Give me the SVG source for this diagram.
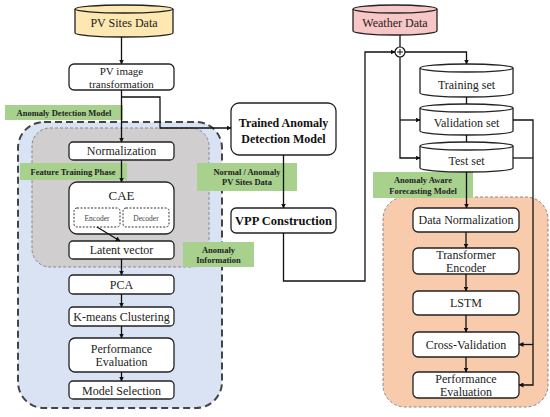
<svg xmlns="http://www.w3.org/2000/svg" width="550" height="417" viewBox="0 0 550 417" font-family="Liberation Serif, Times New Roman, serif">
<style>
.box{fill:#fff;stroke:#222;stroke-width:1.3}
.sub{fill:#fff;stroke:#333;stroke-width:1;stroke-dasharray:2,1.5}
.t{font-size:12px;fill:#222;text-anchor:middle}
.tb{font-size:12px;font-weight:bold;fill:#111;text-anchor:middle}
.ts{font-size:7.5px;fill:#444;text-anchor:middle}
.lbl{fill:#a9d18e}
.lt{font-size:8.5px;font-weight:bold;fill:#222;text-anchor:middle}
.cn{fill:none;stroke:#111;stroke-width:1.3}
</style>
<defs>
<marker id="ah" viewBox="0 0 10 10" refX="9" refY="5" markerWidth="5" markerHeight="5" orient="auto-start-reverse" markerUnits="userSpaceOnUse">
<path d="M0,0 L10,5 L0,10 Z" fill="#111"/>
</marker>
</defs>

<g id="regions">
<rect id="anomaly-region" x="18" y="122" width="204" height="286" rx="26" fill="#dae3f3" stroke="#444" stroke-width="2" stroke-dasharray="7,4"/>
<rect id="feature-region" x="32" y="128" width="177" height="139" rx="18" fill="#d0cece" stroke="#888" stroke-width="1" stroke-dasharray="3,2"/>
<rect id="forecast-region" x="383" y="197" width="165" height="210" rx="22" fill="#f8cbad" stroke="#888" stroke-width="1" stroke-dasharray="3,2"/>
</g>

<g id="labels">
<rect class="lbl" x="5" y="105" width="118" height="15"/>
<text class="lt" x="64" y="115.5">Anomaly Detection Model</text>
<rect class="lbl" x="20" y="163" width="107" height="17"/>
<text class="lt" x="73" y="174.5">Feature Training Phase</text>
<rect class="lbl" x="183" y="242" width="71" height="25"/>
<text class="lt" x="218.5" y="252.5">Anomaly</text>
<text class="lt" x="218.5" y="263">Information</text>
<rect class="lbl" x="197" y="163" width="100" height="28"/>
<text class="lt" x="247" y="174.5">Normal / Anomaly</text>
<text class="lt" x="247" y="185">PV Sites Data</text>
<rect class="lbl" x="373" y="172" width="100" height="26"/>
<text class="lt" x="423" y="182.5">Anomaly Aware</text>
<text class="lt" x="423" y="193.5">Forecasting Model</text>
</g>

<g id="pv-sites-data">
<path d="M75,9 V33 A49,4 0 0 0 173,33 V9" fill="#fce8b0" stroke="#222" stroke-width="1.3"/>
<ellipse cx="124" cy="9" rx="49" ry="4" fill="#fce8b0" stroke="#222" stroke-width="1.3"/>
<text class="t" x="124" y="27">PV Sites Data</text>
</g>
<g id="pv-image">
<rect class="box" x="69" y="64" width="105" height="26" rx="5"/>
<text class="t" x="121.5" y="75" style="font-size:11px">PV image</text>
<text class="t" x="121.5" y="87.5" style="font-size:11px">transformation</text>
</g>
<g id="normalization">
<rect class="box" x="69" y="142" width="105" height="18" rx="4"/>
<text class="t" x="121.5" y="155">Normalization</text>
</g>
<g id="cae">
<rect class="box" x="69" y="182" width="105" height="52" rx="8"/>
<text class="t" x="121.5" y="200" style="font-size:13px">CAE</text>
<rect class="sub" x="74" y="208" width="46" height="19" rx="3"/>
<text class="ts" x="97" y="220.5">Encoder</text>
<rect class="sub" x="123" y="208" width="46" height="19" rx="3"/>
<text class="ts" x="146" y="220.5">Decoder</text>
</g>
<g id="latent">
<rect class="box" x="69" y="241" width="105" height="18" rx="4"/>
<text class="t" x="121.5" y="254">Latent vector</text>
</g>
<g id="pca">
<rect class="box" x="69" y="275" width="105" height="19" rx="4"/>
<text class="t" x="121.5" y="289">PCA</text>
</g>
<g id="kmeans">
<rect class="box" x="69" y="307" width="105" height="19" rx="4"/>
<text class="t" x="121.5" y="321">K-means Clustering</text>
</g>
<g id="perf-left">
<rect class="box" x="69" y="338" width="105" height="34" rx="6"/>
<text class="t" x="121.5" y="353">Performance</text>
<text class="t" x="121.5" y="366">Evaluation</text>
</g>
<g id="model-selection">
<rect class="box" x="69" y="381" width="105" height="18" rx="4"/>
<text class="t" x="121.5" y="394.5">Model Selection</text>
</g>

<g id="trained-model">
<rect class="box" x="231" y="103" width="105" height="52" rx="8"/>
<text class="tb" x="283.5" y="127">Trained Anomaly</text>
<text class="tb" x="283.5" y="143">Detection Model</text>
</g>
<g id="vpp">
<rect class="box" x="231" y="208" width="105" height="25" rx="5"/>
<text class="tb" x="283.5" y="225" style="font-size:12.5px">VPP Construction</text>
</g>

<g id="weather-data">
<path d="M353,9 V31 A42,4 0 0 0 437,31 V9" fill="#f7c6c6" stroke="#222" stroke-width="1.3"/>
<ellipse cx="395" cy="9" rx="42" ry="4" fill="#f7c6c6" stroke="#222" stroke-width="1.3"/>
<text class="t" x="395" y="27">Weather Data</text>
</g>
<g id="combine">
<circle cx="400" cy="52" r="5" fill="#fff" stroke="#111" stroke-width="1.2"/>
<path d="M397,52 H403 M400,49 V55" stroke="#111" stroke-width="1"/>
</g>
<g id="training-set">
<path d="M420,68 V93 A46.5,4 0 0 0 513,93 V68" fill="#fff" stroke="#222" stroke-width="1.3"/>
<ellipse cx="466.5" cy="68" rx="46.5" ry="4" fill="#fff" stroke="#222" stroke-width="1.3"/>
<text class="t" x="466.5" y="89">Training set</text>
</g>
<g id="validation-set">
<path d="M420,108 V131 A46.5,4 0 0 0 513,131 V108" fill="#fff" stroke="#222" stroke-width="1.3"/>
<ellipse cx="466.5" cy="108" rx="46.5" ry="4" fill="#fff" stroke="#222" stroke-width="1.3"/>
<text class="t" x="466.5" y="127">Validation set</text>
</g>
<g id="test-set">
<path d="M420,146 V168 A46.5,4 0 0 0 513,168 V146" fill="#fff" stroke="#222" stroke-width="1.3"/>
<ellipse cx="466.5" cy="146" rx="46.5" ry="4" fill="#fff" stroke="#222" stroke-width="1.3"/>
<text class="t" x="466.5" y="165">Test set</text>
</g>

<g id="data-normalization">
<rect class="box" x="413" y="208" width="106" height="24" rx="5"/>
<text class="t" x="466" y="224">Data Normalization</text>
</g>
<g id="transformer">
<rect class="box" x="413" y="248" width="106" height="26" rx="5"/>
<text class="t" x="466" y="259">Transformer</text>
<text class="t" x="466" y="271.5">Encoder</text>
</g>
<g id="lstm">
<rect class="box" x="413" y="291" width="106" height="24" rx="5"/>
<text class="t" x="466" y="307">LSTM</text>
</g>
<g id="cross-validation">
<rect class="box" x="413" y="332" width="106" height="25" rx="5"/>
<text class="t" x="466" y="348.5">Cross-Validation</text>
</g>
<g id="perf-right">
<rect class="box" x="413" y="372" width="106" height="26" rx="5"/>
<text class="t" x="466" y="383">Performance</text>
<text class="t" x="466" y="395.5">Evaluation</text>
</g>

<g id="connectors">
<path class="cn" d="M121.5,37 V64" marker-end="url(#ah)"/>
<path class="cn" d="M121.5,90 V142" marker-end="url(#ah)"/>
<path class="cn" d="M121.5,97 H160 V128 H231" marker-end="url(#ah)"/>
<path class="cn" d="M121.5,160 V182" marker-end="url(#ah)"/>
<path class="cn" d="M97,227 L120,241" marker-end="url(#ah)"/>
<path class="cn" d="M121.5,259 V275" marker-end="url(#ah)"/>
<path class="cn" d="M121.5,294 V307" marker-end="url(#ah)"/>
<path class="cn" d="M121.5,326 V338" marker-end="url(#ah)"/>
<path class="cn" d="M121.5,372 V381" marker-end="url(#ah)"/>
<path class="cn" d="M283.5,155 V208" marker-end="url(#ah)"/>
<path class="cn" d="M283.5,233 V281 H365 V52 H395" marker-end="url(#ah)"/>
<path class="cn" d="M400,35 V47"/>
<path class="cn" d="M405,52 H466.5 V64" marker-end="url(#ah)"/>
<path class="cn" d="M400,57 V158 H420" marker-end="url(#ah)"/>
<path class="cn" d="M400,120 H420" marker-end="url(#ah)"/>
<path class="cn" d="M466.5,97 V104"/>
<path class="cn" d="M466.5,135 V142"/>
<path class="cn" d="M466.5,172 V208" marker-end="url(#ah)"/>
<path class="cn" d="M513,120 H533 V385 H519" marker-end="url(#ah)"/>
<path class="cn" d="M513,158 H533"/>
<path class="cn" d="M533,344.5 H519" marker-end="url(#ah)"/>
<path class="cn" d="M466,232 V248" marker-end="url(#ah)"/>
<path class="cn" d="M466,274 V291" marker-end="url(#ah)"/>
<path class="cn" d="M466,315 V332" marker-end="url(#ah)"/>
<path class="cn" d="M466,357 V372" marker-end="url(#ah)"/>
</g>
</svg>
